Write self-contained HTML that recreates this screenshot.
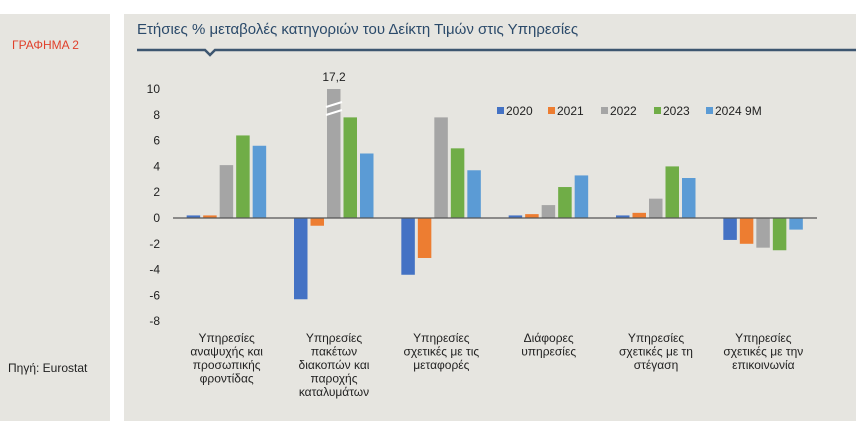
<!DOCTYPE html>
<html><head><meta charset="utf-8">
<style>
body{margin:0;width:866px;height:421px;background:#fff;overflow:hidden;font-family:"Liberation Sans",sans-serif;}
#left{position:absolute;left:0;top:14px;width:110px;height:407px;background:#e6e5e0;}
#panel{position:absolute;left:124px;top:14px;width:732px;height:407px;background:#e6e5e0;}
.t{position:absolute;white-space:nowrap;}
</style></head><body>
<div id="left"></div>
<div id="panel"></div>
<div class="t" style="left:12px;top:38px;font-size:12px;color:#e0402b;">ΓΡΑΦΗΜΑ 2</div>
<div class="t" style="left:8px;top:361px;font-size:12px;color:#222;">Πηγή: Eurostat</div>
<div class="t" style="left:137px;top:21px;font-size:15px;color:#2b4a6a;">Ετήσιες % μεταβολές κατηγοριών του Δείκτη Τιμών στις Υπηρεσίες</div>
<svg id="chart" width="866" height="421" style="position:absolute;left:0;top:0">
<path d="M137 50 H205 L210 55 L215 50 H856" stroke="#3d5670" stroke-width="2.5" fill="none"/>
</svg>
<script>
const categories=[["Υπηρεσίες","αναψυχής και","προσωπικής","φροντίδας"],["Υπηρεσίες","πακέτων","διακοπών και","παροχής","καταλυμάτων"],["Υπηρεσίες","σχετικές με τις","μεταφορές"],["Διάφορες","υπηρεσίες"],["Υπηρεσίες","σχετικές με τη","στέγαση"],["Υπηρεσίες","σχετικές με την","επικοινωνία"]];
const seriesNames=["2020","2021","2022","2023","2024 9M"];
const s2020=[0.2,-6.3,-4.4,0.2,0.2,-1.7];
const s2021=[0.2,-0.6,-3.1,0.3,0.4,-2.0];
const s2022=[4.1,17.2,7.8,1.0,1.5,-2.3];
const s2023=[6.4,7.8,5.4,2.4,4.0,-2.5];
const s2024=[5.6,5.0,3.7,3.3,3.1,-0.9];
const yTicks=[10,8,6,4,2,0,-2,-4,-6,-8];
const colors=["#4472c4","#ed7d31","#a5a5a5","#70ad47","#5b9bd5"];
const series=[s2020,s2021,s2022,s2023,s2024];
const svg=document.getElementById('chart');
const NS="http://www.w3.org/2000/svg";
const x0=173,x1=817,yMax=10,capMax=10;
const y=v=>218-v*12.9;
const bw=(x1-x0)/categories.length;
function mk(t,a){const e=document.createElementNS(NS,t);for(const k in a)e.setAttribute(k,a[k]);svg.appendChild(e);return e;}
yTicks.forEach(v=>{const e=mk('text',{x:160,y:y(v)+4,'text-anchor':'end','font-size':12,fill:'#222'});


e.textContent=String(v);});
series.forEach((s,si)=>{s.forEach((v,ci)=>{
const cx=x0+bw*(ci+0.5)+(si-2)*16.5;
const vv=Math.min(v,capMax);
const r=mk('rect',{x:cx-7,y:Math.min(y(vv),y(0)),width:13.5,height:Math.abs(y(vv)-y(0)),fill:colors[si]});


if(v>capMax){
[0,8].forEach(d=>{const l=mk('line',{x1:cx-8,y1:y(vv)+18+d,x2:cx+8,y2:y(vv)+13+d,stroke:'#fff','stroke-width':2});

});
const t=mk('text',{x:cx,y:y(vv)-8,'text-anchor':'middle','font-size':12,fill:'#222'});


t.textContent=String(v).replace('.',',');}
});});
const zl=mk('line',{x1:x0,y1:y(0),x2:x1,y2:y(0),stroke:'#555','stroke-width':1.2});


categories.forEach((lines,ci)=>{lines.forEach((ln,li)=>{
const t=mk('text',{x:x0+bw*(ci+0.5),y:342+li*13.5,'text-anchor':'middle','font-size':12,fill:'#222'});


t.textContent=ln;});});
const legX=[497,548,601,654,706];
seriesNames.forEach((n,i)=>{
const r=mk('rect',{x:legX[i],y:107,width:7,height:7,fill:colors[i]});


const t=mk('text',{x:legX[i]+9,y:115,'font-size':12,fill:'#222'});


t.textContent=n;});
</script>
</body></html>
